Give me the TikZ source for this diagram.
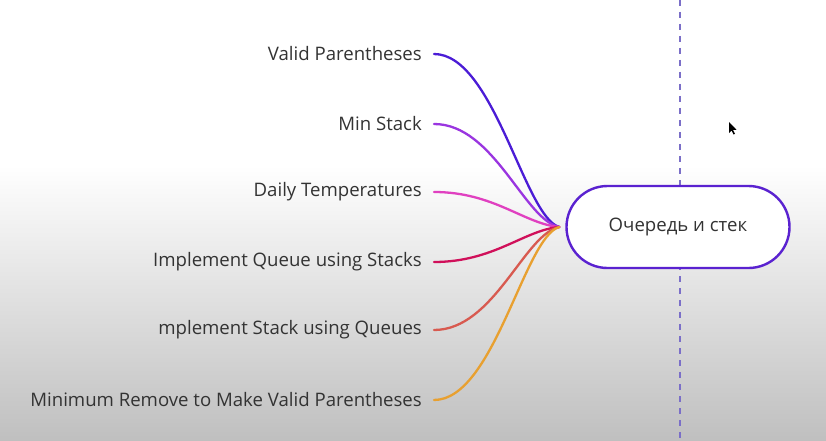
\documentclass[tikz,border=0pt]{standalone}
\usepackage{fontspec}
\setmainfont{Open Sans}
\usetikzlibrary{positioning,calc}

\definecolor{cValid}{HTML}{4B1CD6}
\definecolor{cMin}{HTML}{9A35E0}
\definecolor{cDaily}{HTML}{E040C0}
\definecolor{cQueue}{HTML}{D0105A}
\definecolor{cStack}{HTML}{D85A50}
\definecolor{cRemove}{HTML}{E8A030}
\definecolor{hubline}{HTML}{5A22D0}
\definecolor{dashline}{HTML}{7B6FC8}
\definecolor{txt}{HTML}{333333}

\tikzset{
   task/.style={anchor=east, inner sep=0pt, text=txt, font=\fontsize{18.6}{22}\selectfont},
   hubbox/.style={draw=hubline, line width=2.4pt, fill=white, rounded corners=41pt,
      minimum width=223pt, minimum height=82pt, text=txt,
      font=\fontsize{18.6}{22}\selectfont},
   branch/.style={line width=2.3pt, line cap=round}
}

\begin{document}
\begin{tikzpicture}[x=1pt, y=-1pt]
   % background
   \useasboundingbox (0,0) rectangle (826,441);
   \fill[white] (0,0) rectangle (826,165);
   \shade[top color=white, bottom color=gray!50] (0,165) rectangle (826,441);

   % divider
   \draw[dashline, line width=2pt, dash pattern=on 6pt off 6pt] (680,0) -- (680,441);

   % central node
   \node[hubbox] (hub) at (678,227) {Очередь и стек};

   % tasks
   \node[task] (t1) at (422,54)  {Valid Parentheses};
   \node[task] (t2) at (422,124) {Min Stack};
   \node[task] (t3) at (422,192) {Daily Temperatures};
   \node[task] (t4) at (422,262) {Implement Queue using Stacks};
   \node[task] (t5) at (422,330) {mplement Stack using Queues};
   \node[task] (t6) at (422,400) {Minimum Remove to Make Valid Parentheses};

   \coordinate[left=6pt of hub.west] (h0);

   % branches
   \draw[branch, cValid]  ([xshift=12pt]t1.east) .. controls +(60,0) and +(-35,-10) .. (h0);
   \draw[branch, cMin]    ([xshift=12pt]t2.east) .. controls +(60,0) and +(-35,-7) .. (h0);
   \draw[branch, cDaily]  ([xshift=12pt]t3.east) .. controls +(60,0) and +(-35,-3) .. (h0);
   \draw[branch, cQueue]  ([xshift=12pt]t4.east) .. controls +(60,0) and +(-35,3) .. (h0);
   \draw[branch, cStack]  ([xshift=12pt]t5.east) .. controls +(60,0) and +(-35,7) .. (h0);
   \draw[branch, cRemove] ([xshift=12pt]t6.east) .. controls +(60,0) and +(-35,10) .. (h0);

   % pointer
   \fill[black] (729,122) -- (729,133) -- (731.5,130.5) -- (733.5,134.5) -- (735,133.8)
      -- (733,129.8) -- (736.5,129.8) -- cycle;
\end{tikzpicture}
\end{document}
